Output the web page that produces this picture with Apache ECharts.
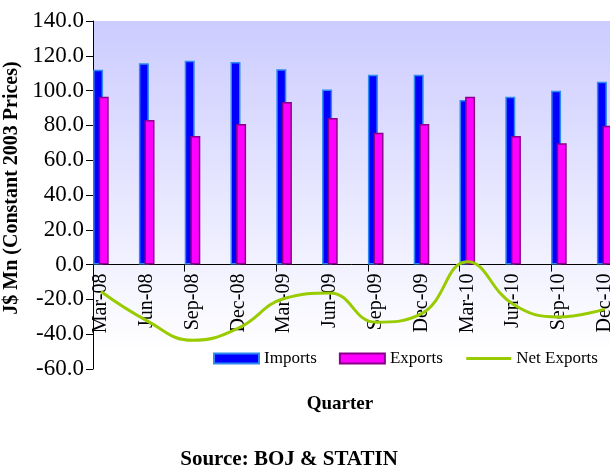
<!DOCTYPE html>
<html>
<head>
<meta charset="utf-8">
<script src="https://cdn.jsdelivr.net/npm/echarts@6/dist/echarts.min.js"></script>
<style>
  html, body { margin: 0; padding: 0; background: #fff; }
  #chart { width: 610px; height: 468px; }
</style>
</head>
<body>
<div id="chart"></div>
<script>
// data
const categories = ['Mar-08', 'Jun-08', 'Sep-08', 'Dec-08', 'Mar-09', 'Jun-09',
  'Sep-09', 'Dec-09', 'Mar-10', 'Jun-10', 'Sep-10', 'Dec-10'];
const imports = [112.0, 115.7, 117.2, 116.4, 112.2, 100.7, 109.1, 109.1, 94.6, 96.5, 99.9, 105.1];
const exportsVals = [96.5, 83.1, 73.9, 80.8, 93.4, 84.3, 75.8, 80.8, 96.5, 73.9, 69.7, 79.8];
const netExports = [-15.5, -32.2, -43.5, -36.5, -19.5, -16.3, -33.1, -28.2, 1.7, -22.8, -30.1, -25.6];
const yMin = -60;
const yMax = 140;
const yStep = 20;

const FONT = 'Liberation Serif';
const GRID_TOP = 21;
const GRID_H = 348;
// distance from the bottom of the plot up to the zero line
const ZERO_OFFSET = GRID_H * (0 - yMin) / (yMax - yMin);

const chart = echarts.init(document.getElementById('chart'));

// two grids: grid 0 carries the axes/ticks/background, grid 1 the marks
// (bars sit at the left third of each tick band in the original)
const option = {
  animation: false,
  title: [
    {
      text: 'Quarter',
      left: 340, top: 395, textAlign: 'center', padding: 0,
      textStyle: { fontFamily: FONT, fontSize: 19, fontWeight: 'bold', color: '#000' }
    },
    {
      text: 'Source: BOJ & STATIN',
      left: 289, top: 449, textAlign: 'center', padding: 0,
      textStyle: { fontFamily: FONT, fontSize: 21, fontWeight: 'bold', color: '#000' }
    }
  ],
  legend: {
    left: 208, top: 345,
    itemWidth: 45, itemHeight: 10, itemGap: 22,
    textStyle: { fontFamily: FONT, fontSize: 17, color: '#000' },
    data: [
      { name: 'Imports', icon: 'rect' },
      { name: 'Exports', icon: 'rect' },
      { name: 'Net Exports', itemStyle: { opacity: 0 }, lineStyle: { width: 3, color: '#99CC00' } }
    ]
  },
  grid: [
    {
      left: 93, top: GRID_TOP, width: 549.6, height: GRID_H,
      outerBoundsMode: 'none', containLabel: false,
      show: true, borderWidth: 0,
      backgroundColor: new echarts.graphic.LinearGradient(0, 0, 0, 1, [
        { offset: 0, color: '#CCCCFF' },
        { offset: 0.95, color: '#FFFFFF' },
        { offset: 1, color: '#FFFFFF' }
      ])
    },
    {
      left: 78, top: GRID_TOP, width: 549.6, height: GRID_H,
      outerBoundsMode: 'none', containLabel: false
    }
  ],
  xAxis: [
    {
      gridIndex: 0, type: 'category', data: categories, boundaryGap: true,
      axisLine: { onZero: true, lineStyle: { color: '#000', width: 1 } },
      axisTick: { show: true, length: 7, lineStyle: { color: '#000' } },
      axisLabel: { show: false }
    },
    {
      gridIndex: 1, type: 'category', data: categories, boundaryGap: true,
      position: 'bottom', offset: -ZERO_OFFSET,
      axisLine: { show: false, onZero: false },
      axisTick: { show: false },
      axisLabel: {
        interval: 0, rotate: 90, margin: 9,
        fontFamily: FONT, fontSize: 20, color: '#000'
      }
    }
  ],
  yAxis: [
    {
      gridIndex: 0, type: 'value', min: yMin, max: yMax, interval: yStep,
      name: 'J$ Mn (Constant 2003 Prices)',
      nameLocation: 'middle', nameGap: 61,
      nameTextStyle: {
        fontFamily: FONT, fontSize: 20, fontWeight: 'bold', color: '#000',
        padding: [0, 0, 0, 14]
      },
      axisLine: { show: true, lineStyle: { color: '#000', width: 1 } },
      axisTick: { show: true, length: 7, lineStyle: { color: '#000' } },
      splitLine: { show: false },
      axisLabel: {
        margin: 9, fontFamily: FONT, fontSize: 23, color: '#000',
        formatter: v => v.toFixed(1)
      }
    },
    {
      gridIndex: 1, type: 'value', min: yMin, max: yMax, interval: yStep,
      axisLine: { show: false }, axisTick: { show: false },
      axisLabel: { show: false }, splitLine: { show: false }
    }
  ],
  series: [
    {
      name: 'Imports', type: 'bar', xAxisIndex: 1, yAxisIndex: 1,
      data: imports, barWidth: 10, barGap: '-44%',
      itemStyle: { color: '#0000FF', borderColor: '#2E8BF0', borderWidth: 1.5 }
    },
    {
      name: 'Exports', type: 'bar', xAxisIndex: 1, yAxisIndex: 1,
      data: exportsVals, barWidth: 10,
      itemStyle: { color: '#FF00FF', borderColor: '#8B008B', borderWidth: 1.5 }
    },
    {
      name: 'Net Exports', type: 'line', xAxisIndex: 1, yAxisIndex: 1,
      data: netExports, smooth: 0.45, symbol: 'none',
      lineStyle: { color: '#99CC00', width: 3 },
      itemStyle: { color: '#99CC00' }
    }
  ]
};

chart.setOption(option);
</script>
</body>
</html>
